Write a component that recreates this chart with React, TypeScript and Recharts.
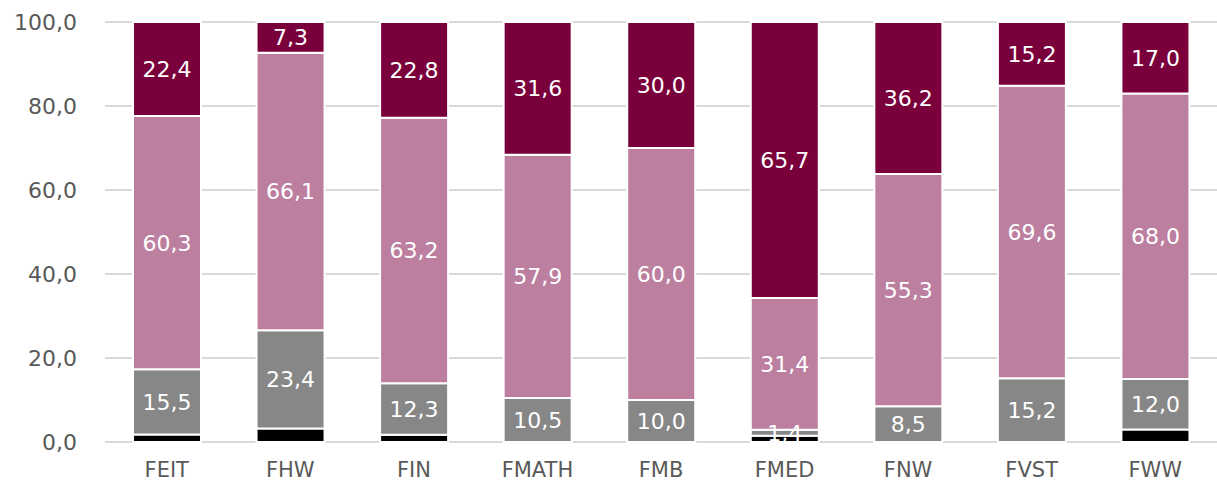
import React from "react";
import { BarChart, Bar, XAxis, YAxis, CartesianGrid, LabelList } from "recharts";

const faculties = ["FEIT", "FHW", "FIN", "FMATH", "FMB", "FMED", "FNW", "FVST", "FWW"];
const blackShare = [1.8, 3.2, 1.7, 0, 0, 1.5, 0, 0, 3.0];
const grayShare = [15.5, 23.4, 12.3, 10.5, 10.0, 1.4, 8.5, 15.2, 12.0];
const pinkShare = [60.3, 66.1, 63.2, 57.9, 60.0, 31.4, 55.3, 69.6, 68.0];
const maroonShare = [22.4, 7.3, 22.8, 31.6, 30.0, 65.7, 36.2, 15.2, 17.0];
const yTicks = [0, 20, 40, 60, 80, 100];

const data = faculties.map((name, i) => ({
  name,
  black: blackShare[i],
  gray: grayShare[i],
  pink: pinkShare[i],
  maroon: maroonShare[i],
}));

const fmt = (v: number) => v.toFixed(1).replace(".", ",");
const FONT = "'DejaVu Sans', Verdana, sans-serif";

const labelStyle = { fill: "#fff", fontSize: 22, fontFamily: FONT };

export default function App() {
  return (
    <div style={{ position: "absolute", left: 0, top: 0, width: 1217, height: 490, background: "#fff" }}>
      <BarChart
        width={1217}
        height={490}
        data={data}
        margin={{ top: 22, right: 0, bottom: 0, left: 0 }}
        barSize={68}
      >
        <CartesianGrid vertical={false} stroke="#d9d9d9" strokeWidth={2} />
        <XAxis
          dataKey="name"
          axisLine={false}
          tickLine={false}
          height={48}
          tickMargin={14}
          tick={{ fill: "#595959", fontSize: 21, fontFamily: FONT }}
        />
        <YAxis
          domain={[0, 100]}
          ticks={yTicks}
          width={105}
          axisLine={false}
          tickLine={false}
          tickMargin={22}
          tickFormatter={fmt}
          tick={{ fill: "#595959", fontSize: 22, fontFamily: FONT }}
        />
        <Bar dataKey="black" stackId="a" fill="#000000" stroke="#ffffff" strokeWidth={2} isAnimationActive={false} />
        <Bar dataKey="gray" stackId="a" fill="#878787" stroke="#ffffff" strokeWidth={2} isAnimationActive={false}>
          <LabelList dataKey="gray" position="center" formatter={fmt} style={labelStyle} />
        </Bar>
        <Bar dataKey="pink" stackId="a" fill="#bc7fa0" stroke="#ffffff" strokeWidth={2} isAnimationActive={false}>
          <LabelList dataKey="pink" position="center" formatter={fmt} style={labelStyle} />
        </Bar>
        <Bar dataKey="maroon" stackId="a" fill="#7a003c" stroke="#ffffff" strokeWidth={2} isAnimationActive={false}>
          <LabelList dataKey="maroon" position="center" formatter={fmt} style={labelStyle} />
        </Bar>
      </BarChart>
    </div>
  );
}
